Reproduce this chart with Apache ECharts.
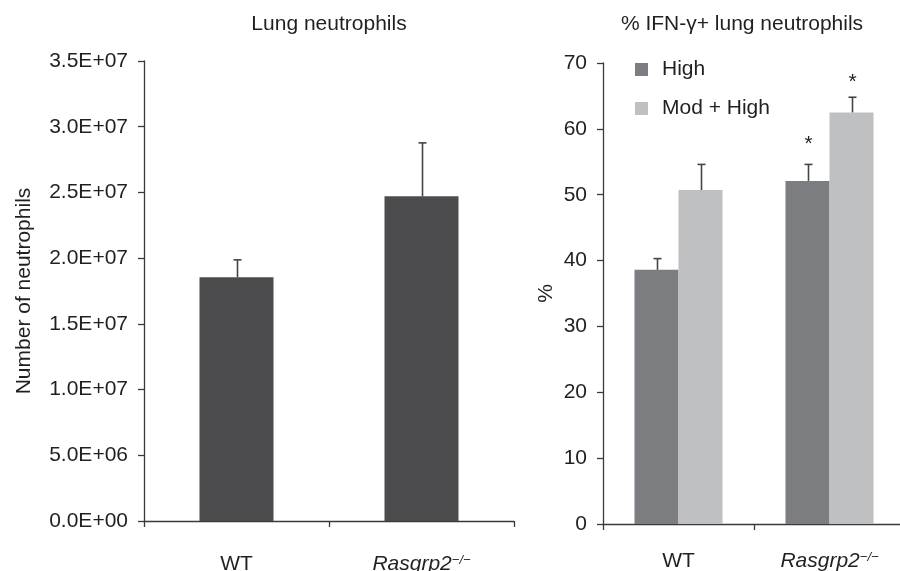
<!DOCTYPE html>
<html>
<head>
<meta charset="utf-8">
<script src="https://cdn.jsdelivr.net/npm/echarts@6/dist/echarts.min.js"></script>
<style>
  html, body { margin: 0; padding: 0; background: #fff; }
  #chart { width: 900px; height: 571px; }
</style>
</head>
<body>
<div id="chart"></div>
<script>
// data
const categories = ['WT', 'Rasgrp2'];
const neutroMean = [1.855e7, 2.47e7];
const neutroErr = [1.32e6, 4.07e6];
const highMean = [38.6, 52.1];
const highErr = [1.7, 2.5];
const modHighMean = [50.7, 62.5];
const modHighErr = [3.9, 2.3];
const highStars = ['', '*'];
const modHighStars = ['', '*'];

const FONT = '"Liberation Sans", Arial, sans-serif';
const FS = 21;
const TXT = '#231f20';
const AXC = '#3a3a3a';

function sciLabel(v) {
  if (v === 0) return '0.0E+00';
  const e = Math.floor(Math.log10(v));
  const m = v / Math.pow(10, e);
  return m.toFixed(1) + 'E+' + String(e).padStart(2, '0');
}

function catLabel(v) {
  return v === 'Rasgrp2' ? '{i|Rasgrp2}{s|\u2212/\u2212}' : '{n|' + v + '}';
}
const labelRich = {
  n: { fontSize: FS, fontFamily: FONT, color: TXT },
  i: { fontSize: FS, fontFamily: FONT, color: TXT, fontStyle: 'italic' },
  s: { fontSize: 13, fontFamily: FONT, color: TXT, fontStyle: 'italic', verticalAlign: 'top', lineHeight: 16 }
};

// error bar (upper only) + optional star
function errRender(errs, stars, offset, starGap) {
  return function (params, api) {
    const i = api.value(0);
    const top = api.coord([i, api.value(1) + errs[i]]);
    const base = api.coord([i, api.value(1)]);
    const x = Math.round(top[0] + offset) + 0.5;
    const kids = [
      { type: 'line', shape: { x1: x, y1: base[1], x2: x, y2: top[1] }, style: { stroke: '#444', lineWidth: 1.6 } },
      { type: 'line', shape: { x1: x - 4, y1: top[1], x2: x + 4, y2: top[1] }, style: { stroke: '#444', lineWidth: 1.6 } }
    ];
    if (stars && stars[i]) {
      kids.push({ type: 'text', style: { text: stars[i], x: x, y: top[1] - starGap, align: 'center', verticalAlign: 'bottom', fontSize: FS, fontFamily: FONT, fill: TXT } });
    }
    return { type: 'group', children: kids };
  };
}

const axisCommon = {
  axisLine: { show: true, lineStyle: { color: AXC, width: 1.3 } },
  axisTick: { show: true, lineStyle: { color: AXC, width: 1.3 }, length: 6 },
  splitLine: { show: false }
};

const chart = echarts.init(document.getElementById('chart'));
chart.setOption({
  animation: false,
  backgroundColor: '#fff',
  textStyle: { fontFamily: FONT },
  title: [
    { text: 'Lung neutrophils', left: 324, top: 9, textAlign: 'center', textStyle: { fontSize: FS, fontWeight: 'normal', color: TXT, fontFamily: FONT } },
    { text: '% IFN-\u03b3+ lung neutrophils', left: 737, top: 9, textAlign: 'center', textStyle: { fontSize: FS, fontWeight: 'normal', color: TXT, fontFamily: FONT } }
  ],
  legend: {
    orient: 'vertical', left: 635, top: 59, padding: 0, itemWidth: 13, itemHeight: 13, itemGap: 18,
    icon: 'rect',
    textStyle: { fontSize: FS, color: TXT, fontFamily: FONT, padding: [0, 0, 0, 9] },
    data: ['High', 'Mod + High']
  },
  grid: [
    { left: 144, top: 61, width: 370, height: 460, outerBoundsMode: 'none', containLabel: false },
    { left: 603, top: 63, width: 302, height: 461, outerBoundsMode: 'none', containLabel: false }
  ],
  xAxis: [
    Object.assign({ type: 'category', gridIndex: 0, data: categories,
      axisLabel: { margin: 33, formatter: catLabel, rich: labelRich } }, axisCommon),
    Object.assign({ type: 'category', gridIndex: 1, data: categories,
      axisLabel: { margin: 27, formatter: catLabel, rich: labelRich } }, axisCommon)
  ],
  yAxis: [
    Object.assign({ type: 'value', gridIndex: 0, min: 0, max: 3.5e7, interval: 5e6,
      name: 'Number of neutrophils', nameLocation: 'middle', nameGap: 109,
      nameTextStyle: { fontSize: FS, color: TXT, fontFamily: FONT },
      axisLabel: { formatter: sciLabel, fontSize: FS, color: TXT, fontFamily: FONT, margin: 16 } }, axisCommon),
    Object.assign({ type: 'value', gridIndex: 1, min: 0, max: 70, interval: 10,
      name: '%', nameLocation: 'middle', nameGap: 46,
      nameTextStyle: { fontSize: FS, color: TXT, fontFamily: FONT },
      axisLabel: { fontSize: FS, color: TXT, fontFamily: FONT, margin: 16 } }, axisCommon)
  ],
  series: [
    { type: 'bar', xAxisIndex: 0, yAxisIndex: 0, data: neutroMean, barWidth: 74,
      itemStyle: { color: '#4c4c4e' } },
    { type: 'custom', xAxisIndex: 0, yAxisIndex: 0, z: 3,
      data: neutroMean.map((v, i) => [i, v]), renderItem: errRender(neutroErr, null, 0, 0) },
    { name: 'High', type: 'bar', xAxisIndex: 1, yAxisIndex: 1, data: highMean, barWidth: 44, barGap: '0%',
      itemStyle: { color: '#7c7d81' } },
    { name: 'Mod + High', type: 'bar', xAxisIndex: 1, yAxisIndex: 1, data: modHighMean, barWidth: 44, barGap: '0%',
      itemStyle: { color: '#bfc0c2' } },
    { type: 'custom', xAxisIndex: 1, yAxisIndex: 1, z: 3,
      data: highMean.map((v, i) => [i, v]), renderItem: errRender(highErr, highStars, -22, 10) },
    { type: 'custom', xAxisIndex: 1, yAxisIndex: 1, z: 3,
      data: modHighMean.map((v, i) => [i, v]), renderItem: errRender(modHighErr, modHighStars, 22, 5) }
  ]
});
</script>
</body>
</html>
